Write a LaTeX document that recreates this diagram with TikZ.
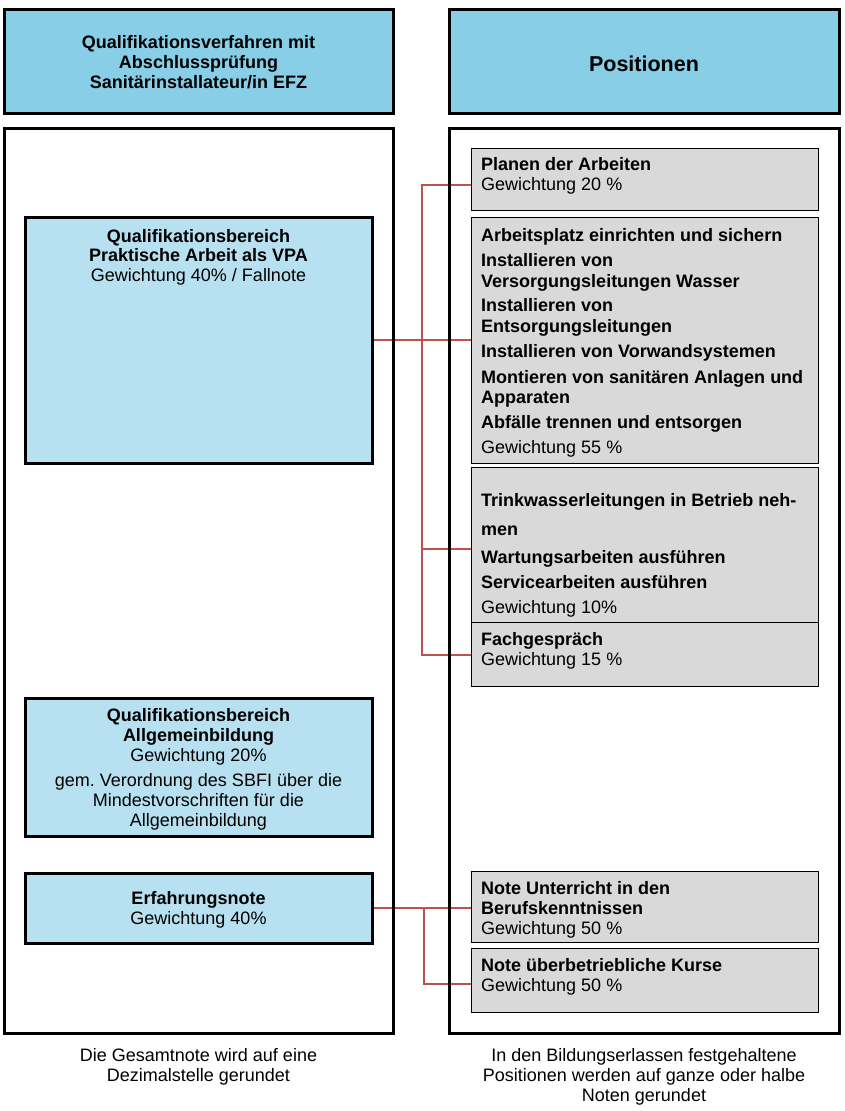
\documentclass[tikz,border=0pt]{standalone}
\usepackage{fontspec}
\setmainfont{Liberation Sans}
\usetikzlibrary{backgrounds}
\definecolor{hdrblue}{HTML}{87CEE6}
\definecolor{boxblue}{HTML}{B7E1F0}
\definecolor{boxgray}{HTML}{D9D9D9}
\definecolor{connred}{HTML}{C0504D}
\begin{document}
\begin{tikzpicture}[x=1pt,y=-1pt,
  thickbox/.style={draw=black, line width=3pt, inner sep=0pt},
  thinbox/.style={draw=black, line width=1pt, fill=boxgray, inner sep=0pt},
  conn/.style={draw=connred, line width=2.5pt},
  tl/.style={anchor=base west, inner sep=0pt, font=\fontsize{18}{20}\selectfont},
  tlb/.style={tl, font=\fontsize{18}{20}\selectfont\bfseries},
  tc/.style={anchor=base, inner sep=0pt, font=\fontsize{18}{20}\selectfont},
  tcb/.style={tc, font=\fontsize{18}{20}\selectfont\bfseries}]
\useasboundingbox (0,0) rectangle (844,1111);

% headers
\node[thickbox, fill=hdrblue, minimum width=389pt, minimum height=104pt] (h1) at (198.5,61) {};
\node[thickbox, fill=hdrblue, minimum width=390pt, minimum height=104pt] (h2) at (644,61) {};
% panels
\node[thickbox, minimum width=389pt, minimum height=905pt] (p1) at (198.5,580.5) {};
\node[thickbox, minimum width=390pt, minimum height=905pt] (p2) at (644,580.5) {};
% left boxes
\node[thickbox, fill=boxblue, minimum width=347pt, minimum height=246pt] (b1) at (198.5,340) {};
\node[thickbox, fill=boxblue, minimum width=347pt, minimum height=138pt] (b2) at (198.5,767) {};
\node[thickbox, fill=boxblue, minimum width=347pt, minimum height=70pt] (b3) at (198.5,908) {};
% right boxes
\node[thinbox, minimum width=347pt, minimum height=62pt] (g1) at (644.5,179) {};
\node[thinbox, minimum width=347pt, minimum height=246pt] (g2) at (644.5,340) {};
\node[thinbox, minimum width=347pt, minimum height=155pt] (g3) at (644.5,544.5) {};
\node[thinbox, minimum width=347pt, minimum height=64pt] (g4) at (644.5,654) {};
\node[thinbox, minimum width=347pt, minimum height=71pt] (g5) at (644.5,906.5) {};
\node[thinbox, minimum width=347pt, minimum height=64pt] (g6) at (644.5,980) {};

% connectors
\coordinate (tr) at (422,0);
\coordinate (tr2) at (424,0);
\coordinate (c1) at ([yshift=-6pt]g1.west);
\coordinate (c3) at ([yshift=-4.5pt]g3.west);
\coordinate (c4) at ([yshift=-1pt]g4.west);
\coordinate (c6) at ([yshift=-4pt]g6.west);
\begin{scope}[on background layer]
\fill[white] (0,0) rectangle (844,1111);
\draw[conn] (c1) -- (c1 -| tr) -- (c4 -| tr) -- (c4);
\draw[conn] (c3 -| tr) -- (c3);
\draw[conn] (b1.east) -- (g2.west);
\draw[conn] (b3.east) -- (b3.east -| g5.west);
\draw[conn] (b3.east -| tr2) |- (c6);
\end{scope}

% header texts
\node[tcb] (t1) at (198.5,48) {Qualifikationsverfahren mit};
\node[tcb] (t2) at (198.5,68) {Abschlussprüfung};
\node[tcb] (t3) at (198.5,88) {Sanitärinstallateur/in EFZ};
\node[anchor=base, inner sep=0pt, font=\fontsize{21.5}{24}\selectfont\bfseries] (t4) at (644,71) {Positionen};

% b1
\node[tcb] (t5) at (198.5,242) {Qualifikationsbereich};
\node[tcb] (t6) at (198.5,261) {Praktische Arbeit als VPA};
\node[tc] (t7) at (198.5,281) {Gewichtung 40\% / Fallnote};

% b2
\node[tcb] (t8) at (198.5,721) {Qualifikationsbereich};
\node[tcb] (t9) at (198.5,741) {Allgemeinbildung};
\node[tc] (t10) at (198.5,761) {Gewichtung 20\%};
\node[tc] (t11) at (198.5,786) {gem.\ Verordnung des SBFI über die};
\node[tc] (t12) at (198.5,806) {Mindestvorschriften für die};
\node[tc] (t13) at (198.5,826) {Allgemeinbildung};

% b3
\node[tcb] (t14) at (198.5,904) {Erfahrungsnote};
\node[tc] (t15) at (198.5,924) {Gewichtung 40\%};

% g1
\node[tlb] (u1) at (481,170) {Planen der Arbeiten};
\node[tl] (u2) at (481,190) {Gewichtung 20 \%};

% g2
\node[tlb] (u3) at (481,241) {Arbeitsplatz einrichten und sichern};
\node[tlb] (u4) at (481,266) {Installieren von};
\node[tlb] (u5) at (481,287) {Versorgungsleitungen Wasser};
\node[tlb] (u6) at (481,311) {Installieren von};
\node[tlb] (u7) at (481,332) {Entsorgungsleitungen};
\node[tlb] (u8) at (481,357) {Installieren von Vorwandsystemen};
\node[tlb] (u9) at (481,383) {Montieren von sanitären Anlagen und};
\node[tlb] (u10) at (481,403) {Apparaten};
\node[tlb] (u11) at (481,428) {Abfälle trennen und entsorgen};
\node[tl] (u12) at (481,453) {Gewichtung 55 \%};

% g3
\node[tlb] (u13) at (481,506) {Trinkwasserleitungen in Betrieb neh-};
\node[tlb] (u14) at (481,535) {men};
\node[tlb] (u15) at (481,563) {Wartungsarbeiten ausführen};
\node[tlb] (u16) at (481,588) {Servicearbeiten ausführen};
\node[tl] (u17) at (481,613) {Gewichtung 10\%};

% g4
\node[tlb] (u18) at (481,645) {Fachgespräch};
\node[tl] (u19) at (481,665) {Gewichtung 15 \%};

% g5
\node[tlb] (u20) at (481,894) {Note Unterricht in den};
\node[tlb] (u21) at (481,914) {Berufskenntnissen};
\node[tl] (u22) at (481,934) {Gewichtung 50 \%};

% g6
\node[tlb] (u23) at (481,971) {Note überbetriebliche Kurse};
\node[tl] (u24) at (481,991) {Gewichtung 50 \%};

% footers
\node[tc] (f1) at (198.5,1061) {Die Gesamtnote wird auf eine};
\node[tc] (f2) at (198.5,1081) {Dezimalstelle gerundet};
\node[tc] (f3) at (644,1061) {In den Bildungserlassen festgehaltene};
\node[tc] (f4) at (644,1081) {Positionen werden auf ganze oder halbe};
\node[tc] (f5) at (644,1101) {Noten gerundet};
\end{tikzpicture}
\end{document}
